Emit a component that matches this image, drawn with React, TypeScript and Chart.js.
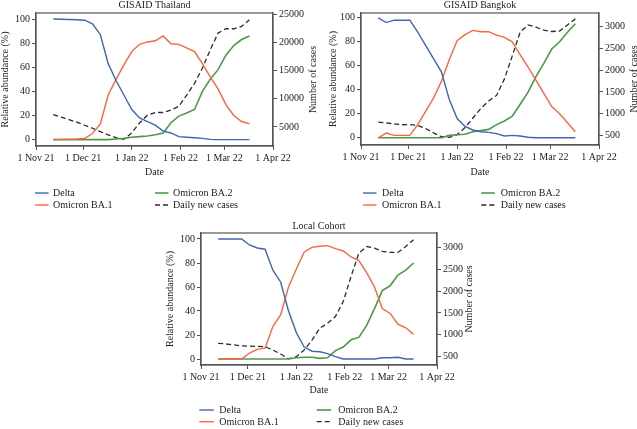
import React, { useEffect, useRef } from "react";
import { Chart, registerables } from "chart.js";

Chart.register(...registerables);

// ---------- data ----------
const dateTickDays = [0, 30, 61, 92, 120, 151]; // days since 1 Nov 21
const dateTickLabels = ["1 Nov 21", "1 Dec 21", "1 Jan 22", "1 Feb 22", "1 Mar 22", "1 Apr 22"];
const abundanceTicks = [0, 20, 40, 60, 80, 100];
const thailandCaseTicks = [5000, 10000, 15000, 20000, 25000];
const bangkokCaseTicks = [500, 1000, 1500, 2000, 2500, 3000];

// sample dates, days since 1 Nov 21
const sampleDays = [11, 16, 21, 26, 31, 36, 41, 46, 51, 56, 61, 66, 71, 76, 81, 86, 91, 96, 101, 106, 111, 116, 121, 126, 131, 136];

// GISAID Thailand
const thDelta = [100, 99.8, 99.6, 99.4, 99, 96, 87, 63, 49, 37, 25, 18, 15, 12, 7, 5.5, 2.5, 2, 1.5, 1, 0.2, 0, 0, 0, 0, 0];
const thBA1 = [0, 0.2, 0.3, 0.5, 1, 5, 13, 37, 50, 62, 73, 79, 81, 82, 86, 79.5, 79, 76, 73, 63, 52, 42, 29, 20, 15, 13];
const thBA2 = [0, 0, 0, 0, 0, 0, 0, 0, 0.5, 1, 2, 2.5, 3, 4, 5.5, 14, 19.5, 22, 25, 40, 50, 58, 70, 78, 83, 86];
const thCases = [7210, 6730, 6300, 5840, 5300, 4760, 4160, 3570, 3090, 2790, 3930, 5720, 7090, 7570, 7570, 7990, 8700, 10670, 12760, 15450, 18730, 21720, 22490, 22490, 22900, 24100];

// GISAID Bangkok
const bkDelta = [100, 96, 98, 98, 98, 88, 77, 66, 55, 32, 16, 9.5, 6.5, 5, 4.5, 3.5, 1.5, 2, 1.5, 0.5, 0, 0, 0, 0, 0, 0];
const bkBA1 = [0, 4, 2, 2, 2, 11, 22, 33, 47, 65, 81, 86, 89.5, 88.4, 88.4, 85.6, 83.7, 80, 69, 59, 48, 37, 26, 20, 12.5, 5];
const bkBA2 = [0, 0, 0, 0, 0, 0, 0, 0, 0, 2, 2.5, 3, 5, 6, 7, 11, 14, 18, 28, 38, 51, 62, 74, 80, 88, 95];
const bkCases = [808, 790, 765, 745, 750, 730, 660, 560, 470, 455, 520, 680, 900, 1120, 1290, 1420, 1800, 2330, 2880, 3040, 2990, 2920, 2890, 2900, 3040, 3180];

// Local Cohort
const lcDelta = [100, 100, 100, 100, 95, 92.5, 91.5, 74, 64, 40, 22, 10, 6.5, 6, 4.5, 2, 0, 0, 0, 0, 0, 1, 1, 1.5, 0, 0];
const lcBA1 = [0, 0, 0, 0, 5, 8, 9, 27, 37, 60, 75, 89, 93, 94, 94.5, 92, 90, 85, 82, 72, 60, 42, 38, 29, 26, 20.5];
const lcBA2 = [0, 0, 0, 0, 0, 0, 0, 0, 0, 0, 1, 1.5, 1.5, 0.5, 1, 7, 10, 16, 18, 28, 42, 57, 61, 70, 74, 80];
const lcCases = [806, 790, 770, 745, 740, 735, 730, 650, 560, 450, 500, 650, 880, 1150, 1265, 1417, 1760, 2335, 2870, 3020, 2985, 2910, 2885, 2885, 3020, 3175];

// ---------- styles ----------
const FONT_FAMILY = "'Liberation Serif', 'Times New Roman', 'DejaVu Serif', serif";
const TEXT = "#222";
const FRAME = "#555";
const C_DELTA = "#3f66b0";
const C_BA1 = "#fd6440";
const C_BA2 = "#4c9a48";
const C_CASES = "#2b2b2b";

Chart.defaults.font.family = FONT_FAMILY;
Chart.defaults.font.size = 10;
Chart.defaults.color = TEXT;

type PanelCfg = {
  title: string;
  pos: { left: number; top: number; width: number; height: number };
  area: { left: number; right: number; top: number; bottom: number };
  yRange: [number, number];
  caseRange: [number, number];
  caseTicks: number[];
  leftTitlePad: number;
  xTitlePad: number;
  titleY: number;
  rightTitleX: number;
  legend: { lineX: [number, number]; textX: [number, number]; rows: [number, number]; lineLen: number };
  delta: number[];
  ba1: number[];
  ba2: number[];
  cases: number[];
};

const panels: PanelCfg[] = [
  {
    title: "GISAID Thailand",
    pos: { left: 0, top: 0, width: 318, height: 215 },
    area: { left: 36, right: 273, top: 13, bottom: 146 },
    yRange: [-5.3, 105],
    caseRange: [1600, 25300],
    caseTicks: thailandCaseTicks,
    leftTitlePad: -1,
    xTitlePad: 37,
    titleY: 7.6,
    rightTitleX: 313,
    legend: { lineX: [35, 155], textX: [53, 173], rows: [193, 205], lineLen: 13.5 },
    delta: thDelta, ba1: thBA1, ba2: thBA2, cases: thCases,
  },
  {
    title: "GISAID Bangkok",
    pos: { left: 318, top: 0, width: 319, height: 215 },
    area: { left: 43, right: 281, top: 13, bottom: 145 },
    yRange: [-6, 104],
    caseRange: [280, 3315],
    caseTicks: bangkokCaseTicks,
    leftTitlePad: 9,
    xTitlePad: 37,
    titleY: 7.8,
    rightTitleX: 316.5,
    legend: { lineX: [45, 163.3], textX: [64, 182.7], rows: [193, 205], lineLen: 13.5 },
    delta: bkDelta, ba1: bkBA1, ba2: bkBA2, cases: bkCases,
  },
  {
    title: "Local Cohort",
    pos: { left: 150, top: 215, width: 340, height: 214 },
    area: { left: 51, right: 287, top: 18, bottom: 150 },
    yRange: [-5, 105],
    caseRange: [309, 3329],
    caseTicks: bangkokCaseTicks,
    leftTitlePad: 14,
    xTitlePad: 32.5,
    titleY: 14.3,
    rightTitleX: 319.3,
    legend: { lineX: [49.3, 166.7], textX: [69.3, 188.3], rows: [195, 206.7], lineLen: 14.5 },
    delta: lcDelta, ba1: lcBA1, ba2: lcBA2, cases: lcCases,
  },
];

const toPoints = (vals: number[]) => sampleDays.map((d, i) => ({ x: d, y: vals[i] }));

const decorPlugin = {
  id: "decor",
  afterDraw(chart: any, _args: any, opts: any) {
    const { ctx, chartArea: a } = chart;
    ctx.save();
    // frame (all four spines)
    ctx.strokeStyle = FRAME;
    ctx.lineWidth = 1.2;
    ctx.setLineDash([]);
    ctx.strokeRect(a.left, a.top, a.right - a.left, a.bottom - a.top);

    ctx.fillStyle = TEXT;
    ctx.font = `10px ${FONT_FAMILY}`;
    // panel title
    ctx.textAlign = "center";
    ctx.textBaseline = "alphabetic";
    ctx.fillText(opts.title, (a.left + a.right) / 2, opts.titleY);

    // right axis title (reads bottom to top)
    ctx.save();
    ctx.translate(opts.rightTitleX, (a.top + a.bottom) / 2);
    ctx.rotate(-Math.PI / 2);
    ctx.textBaseline = "middle";
    ctx.fillText(opts.rightTitle, 0, 0);
    ctx.restore();

    // legend: two columns
    const ds = chart.data.datasets;
    const order = [
      { i: 0, c: 0, r: 0 },
      { i: 2, c: 1, r: 0 },
      { i: 1, c: 0, r: 1 },
      { i: 3, c: 1, r: 1 },
    ];
    const lg = opts.legend;
    ctx.textAlign = "left";
    ctx.textBaseline = "alphabetic";
    order.forEach(({ i, c, r }) => {
      const d = ds[i];
      const y = lg.rows[r];
      ctx.save();
      ctx.strokeStyle = d.borderColor;
      ctx.lineWidth = d.borderWidth;
      ctx.setLineDash(d.borderDash || []);
      ctx.beginPath();
      ctx.moveTo(lg.lineX[c], y);
      ctx.lineTo(lg.lineX[c] + lg.lineLen, y);
      ctx.stroke();
      ctx.restore();
      ctx.fillStyle = TEXT;
      ctx.fillText(d.label, lg.textX[c], y + 3.4);
    });
    ctx.restore();
  },
};

function Panel({ cfg }: { cfg: PanelCfg }) {
  const ref = useRef<HTMLCanvasElement | null>(null);
  useEffect(() => {
    if (!ref.current) return;
    const { pos, area } = cfg;
    const tickGrid = {
      display: true,
      drawOnChartArea: false,
      drawTicks: true,
      tickLength: 4,
      tickWidth: 1,
      color: FRAME,
    };
    const border = { display: true, color: FRAME, width: 1.2 };
    const chart = new Chart(ref.current, {
      type: "line",
      data: {
        datasets: [
          { label: "Delta", data: toPoints(cfg.delta), borderColor: C_DELTA, borderWidth: 1.4, yAxisID: "y" },
          { label: "Omicron BA.1", data: toPoints(cfg.ba1), borderColor: C_BA1, borderWidth: 1.4, yAxisID: "y" },
          { label: "Omicron BA.2", data: toPoints(cfg.ba2), borderColor: C_BA2, borderWidth: 1.6, yAxisID: "y" },
          { label: "Daily new cases", data: toPoints(cfg.cases), borderColor: C_CASES, borderWidth: 1.3, borderDash: [5, 3], yAxisID: "y1" },
        ] as any,
      },
      options: {
        animation: false,
        responsive: false,
        maintainAspectRatio: false,
        events: [],
        layout: { padding: { top: area.top, left: 0, right: 0, bottom: 0 } },
        elements: { point: { radius: 0 }, line: { tension: 0, fill: false } },
        plugins: {
          legend: { display: false },
          tooltip: { enabled: false },
          title: { display: false },
          decor: {
            title: cfg.title,
            rightTitle: "Number of cases",
            titleY: cfg.titleY,
            rightTitleX: cfg.rightTitleX,
            legend: cfg.legend,
          },
        } as any,
        scales: {
          x: {
            type: "linear",
            position: "bottom",
            min: dateTickDays[0],
            max: dateTickDays[dateTickDays.length - 1],
            afterBuildTicks: (s: any) => {
              s.ticks = dateTickDays.map((v) => ({ value: v }));
            },
            afterFit: (s: any) => {
              s.height = pos.height - area.bottom;
            },
            ticks: {
              autoSkip: false,
              maxRotation: 0,
              padding: 2,
              color: TEXT,
              callback: (v: any) => {
                const k = dateTickDays.indexOf(Number(v));
                return k >= 0 ? dateTickLabels[k] : "";
              },
            },
            grid: tickGrid,
            border,
            title: { display: true, text: "Date", color: TEXT, padding: { top: 0, bottom: cfg.xTitlePad } },
          },
          y: {
            type: "linear",
            position: "left",
            min: cfg.yRange[0],
            max: cfg.yRange[1],
            afterBuildTicks: (s: any) => {
              s.ticks = abundanceTicks.map((v) => ({ value: v }));
            },
            afterFit: (s: any) => {
              s.width = area.left;
            },
            ticks: { padding: 2, color: TEXT, callback: (v: any) => String(v) },
            grid: tickGrid,
            border,
            title: { display: true, text: "Relative abundance (%)", color: TEXT, padding: { top: cfg.leftTitlePad, bottom: 0 } },
          },
          y1: {
            type: "linear",
            position: "right",
            min: cfg.caseRange[0],
            max: cfg.caseRange[1],
            afterBuildTicks: (s: any) => {
              s.ticks = cfg.caseTicks.map((v) => ({ value: v }));
            },
            afterFit: (s: any) => {
              s.width = pos.width - area.right;
            },
            ticks: { padding: 2, color: TEXT, callback: (v: any) => String(v) },
            grid: tickGrid,
            border,
          },
        } as any,
      },
      plugins: [decorPlugin],
    });
    return () => chart.destroy();
  }, [cfg]);
  const { pos } = cfg;
  return (
    <canvas
      ref={ref}
      width={pos.width}
      height={pos.height}
      style={{ position: "absolute", left: pos.left, top: pos.top, width: pos.width, height: pos.height }}
    />
  );
}

export default function App() {
  return (
    <div style={{ position: "absolute", left: 0, top: 0, width: 637, height: 429, background: "#fff", overflow: "hidden" }}>
      {panels.map((p) => (
        <Panel key={p.title} cfg={p} />
      ))}
    </div>
  );
}
